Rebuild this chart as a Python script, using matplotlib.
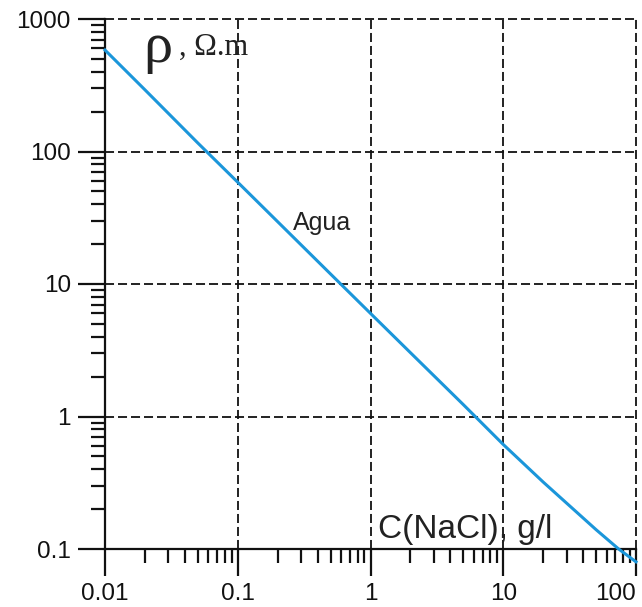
import matplotlib
matplotlib.use('Agg')
import matplotlib.pyplot as plt
from matplotlib.ticker import LogLocator, FixedLocator, FixedFormatter, NullFormatter

# concentration C (g/l) and resistivity rho (ohm.m)
conc = [0.01, 0.02, 0.05, 0.1, 0.2, 0.5, 1, 2, 5, 10, 20, 50, 74, 100]
rho = [583, 292, 116, 58.6, 29.5, 11.9, 6.0, 3.03, 1.23, 0.615, 0.32, 0.14, 0.1, 0.08]

xticks = [0.01, 0.1, 1, 10, 100]
xtick_labels = ['0.01', '0.1', '1', '10', '100']
yticks = [0.1, 1, 10, 100, 1000]
ytick_labels = ['0.1', '1', '10', '100', '1000']

plt.rcParams['font.family'] = ['Liberation Sans', 'DejaVu Sans']

fig = plt.figure(figsize=(6.42, 6.07), dpi=100)
ax = fig.add_axes([105 / 642, 58 / 607, 531 / 642, 530 / 607])

ax.plot(conc, rho, color='#1b96da', lw=2.2, clip_on=False, zorder=3)

ax.set_xscale('log')
ax.set_yscale('log')
ax.set_xlim(0.01, 100)
ax.set_ylim(0.1, 1000)

ax.xaxis.set_major_locator(FixedLocator(xticks))
ax.xaxis.set_major_formatter(FixedFormatter(xtick_labels))
ax.yaxis.set_major_locator(FixedLocator(yticks))
ax.yaxis.set_major_formatter(FixedFormatter(ytick_labels))
ax.xaxis.set_minor_locator(LogLocator(base=10, subs=range(2, 10), numticks=20))
ax.yaxis.set_minor_locator(LogLocator(base=10, subs=range(2, 10), numticks=20))
ax.xaxis.set_minor_formatter(NullFormatter())
ax.yaxis.set_minor_formatter(NullFormatter())

ax.tick_params(which='major', direction='out', length=19.5, width=1.6, pad=5,
               labelsize=17.5, colors='#111111')
ax.tick_params(which='minor', direction='out', length=10, width=1.6, colors='#111111')

for s in ['top', 'right']:
    ax.spines[s].set_visible(False)
for s in ['left', 'bottom']:
    ax.spines[s].set_linewidth(1.6)
    ax.spines[s].set_color('#111111')

ax.grid(True, which='major', color='#111111', lw=1.3, ls=(0, (5, 2.2)))
for gl in ax.get_xgridlines() + ax.get_ygridlines():
    gl.set_clip_on(False)

# last x label sits flush with the right end of the axis
fig.canvas.draw()
ax.get_xticklabels()[-1].set_ha('right')

ax.text(0.0716, 0.919, 'ρ', transform=ax.transAxes, fontsize=42,
        family=['Liberation Serif', 'DejaVu Serif'], ha='left', va='baseline', color='#222222')
ax.text(0.139, 0.932, ', Ω.m', transform=ax.transAxes, fontsize=22,
        family=['Liberation Serif', 'DejaVu Serif'], ha='left', va='baseline', color='#222222')
ax.text(0.514, 0.021, 'C(NaCl), g/l', transform=ax.transAxes, fontsize=24,
        ha='left', va='baseline', color='#222222')
ax.text(0.354, 0.602, 'Agua', transform=ax.transAxes, fontsize=18,
        ha='left', va='baseline', color='#222222')

fig.savefig('out.png', dpi=100)
